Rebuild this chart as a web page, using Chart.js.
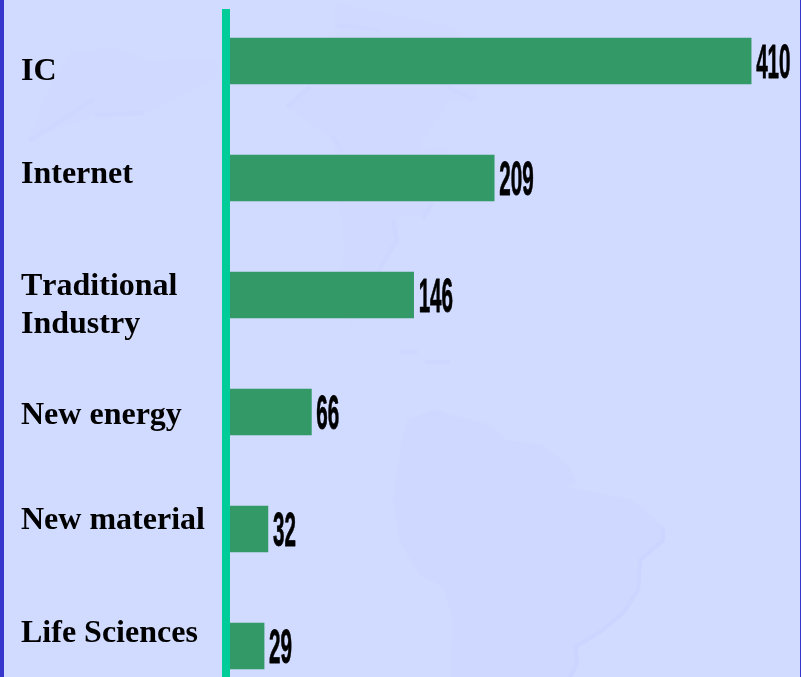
<!DOCTYPE html>
<html>
<head>
<meta charset="utf-8">
<title>Companies by sector</title>
<script src="https://cdn.jsdelivr.net/npm/chart.js@4/dist/chart.umd.min.js"></script>
<style>
  html, body { margin: 0; padding: 0; width: 801px; height: 677px; overflow: hidden; background: #D1DAFF; }
  #map { position: absolute; left: 0; top: 0; }
  #chart { position: absolute; left: 0; top: 0; }
  #leftEdge { position: absolute; left: 0; top: 0; width: 4px; height: 677px; background: #3636CC; }
  #rightEdge { position: absolute; left: 800px; top: 0; width: 1px; height: 677px; background: #3636CC; }
</style>
</head>
<body>
<!-- faint world map behind the chart -->
<svg id="map" width="801" height="677">
  <g fill="#CFD9FF" stroke="none">
    <path d="M407 420 L433 410 L443 413 L490 425 L507 440 L543 445 L570 467 L577 483 L567 487 L633 500 L663 527 L663 540 L640 560 L638 590 L623 613 L600 632 L575 647 L577 663 L570 677 L450 677 L453 620 L443 587 L420 575 L400 543 L393 500 L400 450 Z"/>
    <path d="M335 3 L455 28 L478 100 L450 100 L415 150 L450 148 L425 215 L395 218 L397 240 L375 275 L352 325 L335 300 L345 250 L333 140 L290 108 L310 85 L335 60 Z" fill="#D0D9FF"/>
    <path d="M70 52 L115 48 L150 62 L215 58 L220 75 L143 115 L95 115 L28 140 L45 100 Z" fill="#D0D9FF"/>
  </g>
  <g fill="none" stroke="#CBD5FF" stroke-width="4" stroke-linejoin="round">
    <path d="M663 527 L663 540 L640 560 L638 590 L623 613 L600 632 L575 647 L577 663 L570 677"/>
  </g>
  <g fill="none" stroke="#CDD7FF" stroke-width="4" stroke-linejoin="round">
    <path d="M400 352 L418 352 M425 362 L450 362 M432 412 L442 414"/>
    <path d="M337 25 L380 30 M287 107 L310 87 M333 137 L343 153 M447 87 L473 100"/>
    <path d="M393 220 L397 240 L377 273 M423 218 L432 203 M30 140 L93 100 M95 115 L143 113"/>
  </g>
</svg>
<canvas id="chart" width="801" height="707"></canvas>
<div id="leftEdge"></div>
<div id="rightEdge"></div>
<script>
const categories = ['IC', 'Internet', 'Traditional Industry', 'New energy', 'New material', 'Life Sciences'];
const counts = [410, 209, 146, 66, 32, 29];

// how each category name breaks, and how far its first baseline sits from the bar centre
const nameLines = [['IC'], ['Internet'], ['Traditional', 'Industry'], ['New energy'], ['New material'], ['Life Sciences']];
const nameBaselines = [19, 5, 0, 12, 0, -4];

// left-hand names, drawn from the y scale
const namesPlugin = {
  id: 'names',
  afterDraw(chart) {
    const ctx = chart.ctx;
    const yScale = chart.scales.y;
    ctx.save();
    ctx.fillStyle = '#000000';
    ctx.font = 'bold 32px "Liberation Serif"';
    ctx.fontKerning = 'none';
    ctx.textBaseline = 'alphabetic';
    nameLines.forEach((lines, i) => {
      const y = yScale.getPixelForValue(i) + nameBaselines[i];
      lines.forEach((line, j) => ctx.fillText(line, 21, y + j * 38));
    });
    ctx.restore();
  }
};

// squeezed bold numbers at the bar ends
const valuesPlugin = {
  id: 'values',
  afterDatasetsDraw(chart) {
    const ctx = chart.ctx;
    ctx.save();
    ctx.fillStyle = '#000000';
    ctx.strokeStyle = '#000000';
    ctx.lineWidth = 0.8;
    ctx.lineJoin = 'round';
    ctx.font = 'bold 48px "Liberation Sans"';
    ctx.textBaseline = 'alphabetic';
    chart.getDatasetMeta(0).data.forEach((bar, i) => {
      ctx.save();
      ctx.translate(bar.x + 5, bar.y + 17);
      ctx.scale(0.43, 1);
      ctx.fillText(String(counts[i]), 0, 0);
      ctx.strokeText(String(counts[i]), 0, 0);
      ctx.restore();
    });
    ctx.restore();
  }
};

// vertical axis rule over the bar roots
const axisPlugin = {
  id: 'axisRule',
  afterDatasetsDraw(chart) {
    const ctx = chart.ctx;
    const left = chart.scales.x.getPixelForValue(0);
    ctx.save();
    ctx.fillStyle = '#00CC99';
    ctx.fillRect(left - 5, 9, 8, chart.height - 9);
    ctx.restore();
  }
};

new Chart(document.getElementById('chart'), {
  type: 'bar',
  data: {
    labels: categories,
    datasets: [{
      data: counts,
      backgroundColor: '#339966',
      barThickness: 46
    }]
  },
  options: {
    indexAxis: 'y',
    responsive: false,
    animation: false,
    layout: { padding: { left: 227, top: 2.5, bottom: 2.5, right: 0 } },
    plugins: { legend: { display: false }, tooltip: { enabled: false } },
    scales: {
      x: { display: false, min: 0, max: 449 },
      y: { display: false }
    }
  },
  plugins: [axisPlugin, valuesPlugin, namesPlugin]
});
</script>
</body>
</html>
